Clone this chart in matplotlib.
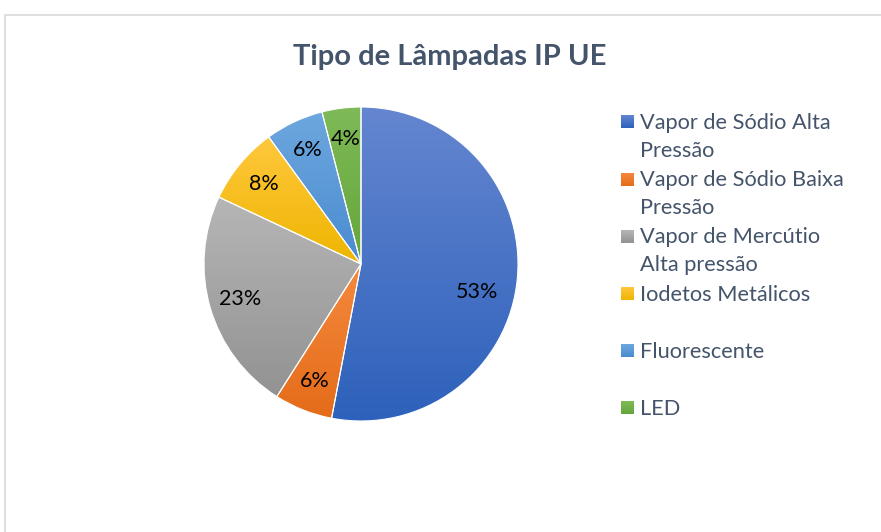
import numpy as np
import matplotlib
matplotlib.use("Agg")
import matplotlib.pyplot as plt
from matplotlib.patches import Rectangle
from matplotlib.colors import LinearSegmentedColormap

categories = ["Vapor de Sódio Alta\nPressão", "Vapor de Sódio Baixa\nPressão",
              "Vapor de Mercútio\nAlta pressão", "Iodetos Metálicos",
              "Fluorescente", "LED"]
values = [53, 6, 23, 8, 6, 4]
colors_top = ["#6586D0", "#F5893E", "#B6B6B6", "#FFC83D", "#6DA7DE", "#7EBA57"]
colors_bot = ["#2D61BB", "#E46C19", "#929292", "#EEB500", "#4A8BD0", "#65A63B"]
title = "Tipo de Lâmpadas IP UE"

W, H = 881, 532
fig = plt.figure(figsize=(W / 100, H / 100), dpi=100)
ax = fig.add_axes([0, 0, 1, 1])

font = "Lato"
txtcol = "#44546A"

# chart frame
ax.add_patch(Rectangle((5, -20), W + 40, H - 15 + 20, fill=False,
                       edgecolor="#D9D9D9", linewidth=1.2))

cx, cy, r = 361, H - 264, 157
wedges, texts, autotexts = ax.pie(
    values, startangle=90, counterclock=False, center=(cx, cy), radius=r,
    autopct="%1.0f%%", pctdistance=0.8, frame=True,
    wedgeprops=dict(edgecolor="white", linewidth=0.8),
    textprops=dict(fontsize=15.5, color="black", family=font))

grad = np.linspace(0, 1, 256).reshape(-1, 1)
for w, ct, cb in zip(wedges, colors_top, colors_bot):
    verts = w.get_patch_transform().transform(w.get_path().vertices)
    x0, y0 = verts.min(axis=0)
    x1, y1 = verts.max(axis=0)
    cmap = LinearSegmentedColormap.from_list("g", [cb, ct])
    im = ax.imshow(grad, extent=[x0, x1, y0, y1], origin="lower", cmap=cmap,
                   aspect="auto", zorder=1, interpolation="bilinear")
    im.set_clip_path(w)
    w.set_facecolor("none")
    w.set_zorder(2)
for t in autotexts:
    t.set_zorder(3)

# Excel's best-fit placement for the big slice label
ang = np.deg2rad(-13.6)
autotexts[0].set_position((cx + 0.76 * r * np.cos(ang), cy + 0.76 * r * np.sin(ang)))

ax.text(450, H - 57, title, ha="center", va="center", fontsize=21,
        fontweight="bold", color="#44546A", family=font)

# legend
step = 57.2
top = H - 122
lead = 28
for i, (lab, ct, cb) in enumerate(zip(categories, colors_top, colors_bot)):
    yc = top - i * step
    cmap = LinearSegmentedColormap.from_list("g", [cb, ct])
    ax.imshow(grad, extent=[621, 634, yc - 6.5, yc + 6.5], origin="lower",
              cmap=cmap, aspect="auto", zorder=3)
    for k, line in enumerate(lab.split("\n")):
        ax.text(640, yc - 7 - k * lead, line, ha="left", va="baseline",
                fontsize=15.7, color=txtcol, family=font)

ax.set_xlim(0, W)
ax.set_ylim(0, H)
ax.set_aspect("equal")
ax.axis("off")

fig.savefig("out.png", dpi=100)
